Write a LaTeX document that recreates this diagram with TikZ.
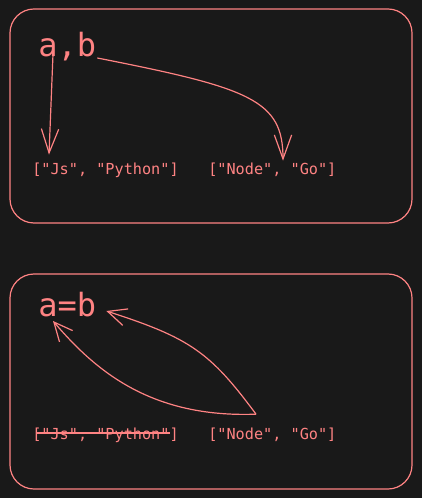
\documentclass[tikz,border=0pt]{standalone}
\usepackage{fontspec}
\setmonofont{DejaVu Sans Mono}
\usetikzlibrary{arrows.meta,calc}
\definecolor{bg}{HTML}{191919}
\definecolor{ink}{HTML}{FF8383}
\begin{document}
\begin{tikzpicture}[x=0.75pt,y=-0.75pt,
 box/.style={draw=ink, line width=0.9pt, rounded corners=18pt},
 big/.style={text=ink, font=\ttfamily\fontsize{24}{28}\selectfont, inner sep=0pt, anchor=base west},
 lbl/.style={text=ink, font=\ttfamily\fontsize{11.4}{13}\selectfont, inner sep=0pt, anchor=base west},
 con/.style={draw=ink, line width=0.9pt},
 tipA/.style={-{Straight Barb[length=18pt,width=13pt,line width=0.9pt]}},
 tipB/.style={-{Straight Barb[length=14pt,width=13pt,line width=0.9pt]}}]
\fill[bg] (0,0) rectangle (422,498);
\useasboundingbox (0,0) rectangle (422,498);
% top panel
\draw[box] (10,9) rectangle (412,223);
\node[big] (ab) at (38,57) {a,b};
\node[lbl] (js1) at (32,174.5) {["Js", "Python"]};
\node[lbl] (ng1) at (208,174.5) {["Node", "Go"]};
\draw[con,tipA] ($(ab.base west)+(15,-3)$) -- ($(js1.north west)+(17,-8)$);
\draw[con,tipA] ($(ab.base east)+(1,1)$) .. controls (250,88) and (283,100) .. ($(ng1.north west)+(75,-2)$);
% bottom panel
\draw[box] (10,274) rectangle (412,489);
\node[big] (ab2) at (38,316) {a=b};
\node[lbl] (js2) at (32,439) {["Js", "Python"]};
\node[lbl] (ng2) at (208,439) {["Node", "Go"]};
\coordinate (src) at ($(ng2.north west)+(48,-13)$);
\draw[con] ($(js2.base west)+(5,-6)$) -- ($(js2.base east)+(-9,-6)$);
\draw[con,tipB] (src) .. controls (150,418) and (95,370) .. ($(ab2.base west)+(15,5)$);
\draw[con,tipB] (src) .. controls (210,352) and (190,338) .. ($(ab2.base east)+(10,-5)$);
\end{tikzpicture}
\end{document}
